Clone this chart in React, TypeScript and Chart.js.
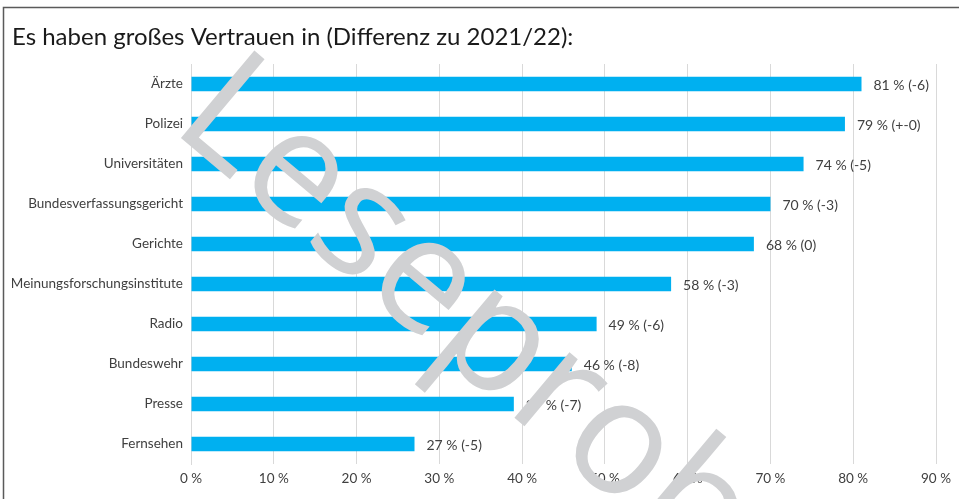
import React, { useEffect, useRef } from "react";
import { Chart, registerables } from "chart.js";

Chart.register(...registerables);

const titleText = "Es haben großes Vertrauen in (Differenz zu 2021/22):";
const categories = [
  "Ärzte",
  "Polizei",
  "Universitäten",
  "Bundesverfassungsgericht",
  "Gerichte",
  "Meinungsforschungsinstitute",
  "Radio",
  "Bundeswehr",
  "Presse",
  "Fernsehen",
];
const values = [81, 79, 74, 70, 68, 58, 49, 46, 39, 27];
const changes = ["-6", "+-0", "-5", "-3", "0", "-3", "-6", "-8", "-7", "-5"];
const xMin = 0;
const xMax = 90;
const xStep = 10;
const watermarkText = "Leseprobe";

const FONT = "Lato, 'Open Sans', sans-serif";
const TEXT = "#404040";

const framePlugin = {
  id: "frame",
  beforeDraw(chart: any) {
    const ctx = chart.ctx;
    ctx.save();
    ctx.fillStyle = "#ffffff";
    ctx.fillRect(0, 0, chart.width, chart.height);
    ctx.strokeStyle = "#5a5a5a";
    ctx.lineWidth = 1.5;
    ctx.beginPath();
    ctx.moveTo(3.5, chart.height);
    ctx.lineTo(3.5, 7.5);
    ctx.lineTo(chart.width, 7.5);
    ctx.stroke();
    ctx.restore();
  },
};

const valueLabelPlugin = {
  id: "valueLabels",
  afterDatasetsDraw(chart: any) {
    const ctx = chart.ctx;
    const meta = chart.getDatasetMeta(0);
    ctx.save();
    ctx.font = `14px ${FONT}`;
    ctx.fillStyle = TEXT;
    ctx.textAlign = "left";
    ctx.textBaseline = "middle";
    meta.data.forEach((bar: any, i: number) => {
      ctx.fillText(`${values[i]} % (${changes[i]})`, bar.x + 12, bar.y + 1);
    });
    ctx.restore();
  },
};

const watermarkPlugin = {
  id: "watermark",
  afterDraw(chart: any) {
    const ctx = chart.ctx;
    ctx.save();
    ctx.translate(169, 128);
    ctx.rotate((40 * Math.PI) / 180);
    ctx.font = "160px 'Open Sans', sans-serif";
    ctx.fillStyle = "#d0d1d3";
    ctx.textAlign = "left";
    ctx.textBaseline = "alphabetic";
    ctx.fillText(watermarkText, 0, 0);
    ctx.restore();
  },
};

export default function App() {
  const canvasRef = useRef<HTMLCanvasElement | null>(null);

  useEffect(() => {
    if (!canvasRef.current) return;
    const chart = new Chart(canvasRef.current, {
      type: "bar",
      data: {
        labels: categories,
        datasets: [
          {
            data: values,
            backgroundColor: "#00b0f0",
            borderWidth: 0,
            barPercentage: 0.36,
            categoryPercentage: 1,
          },
        ],
      },
      options: {
        indexAxis: "y",
        responsive: false,
        animation: false,
        devicePixelRatio: 1,
        layout: { padding: { left: 12, right: 23, top: 0, bottom: 0 } },
        plugins: {
          legend: { display: false },
          tooltip: { enabled: false },
          title: {
            display: true,
            text: titleText,
            align: "start",
            color: "#1a1a1a",
            font: { family: FONT, size: 24, weight: "normal" },
            padding: { top: 23, bottom: 12.2 },
          },
        },
        scales: {
          x: {
            min: xMin,
            max: xMax,
            ticks: {
              stepSize: xStep,
              color: TEXT,
              font: { family: FONT, size: 13.5 },
              padding: 7,
              callback: (v: any) => `${v} %`,
            },
            grid: { color: "#d9d9d9", drawTicks: false, lineWidth: 1 },
            border: { display: false },
            afterFit: (scale: any) => {
              scale.height = 35;
            },
          },
          y: {
            ticks: {
              color: TEXT,
              font: { family: FONT, size: 13.5 },
              padding: 8,
            },
            grid: { display: false, drawTicks: false },
            border: { display: true, color: "#d9d9d9" },
            afterFit: (scale: any) => {
              scale.width = 179;
            },
          },
        },
      },
      plugins: [framePlugin, valueLabelPlugin, watermarkPlugin],
    });
    return () => chart.destroy();
  }, []);

  return (
    <div style={{ position: "fixed", left: 0, top: 0, width: 959, height: 499, background: "#fff" }}>
      <canvas ref={canvasRef} width={959} height={499} style={{ display: "block", width: 959, height: 499 }} />
    </div>
  );
}
